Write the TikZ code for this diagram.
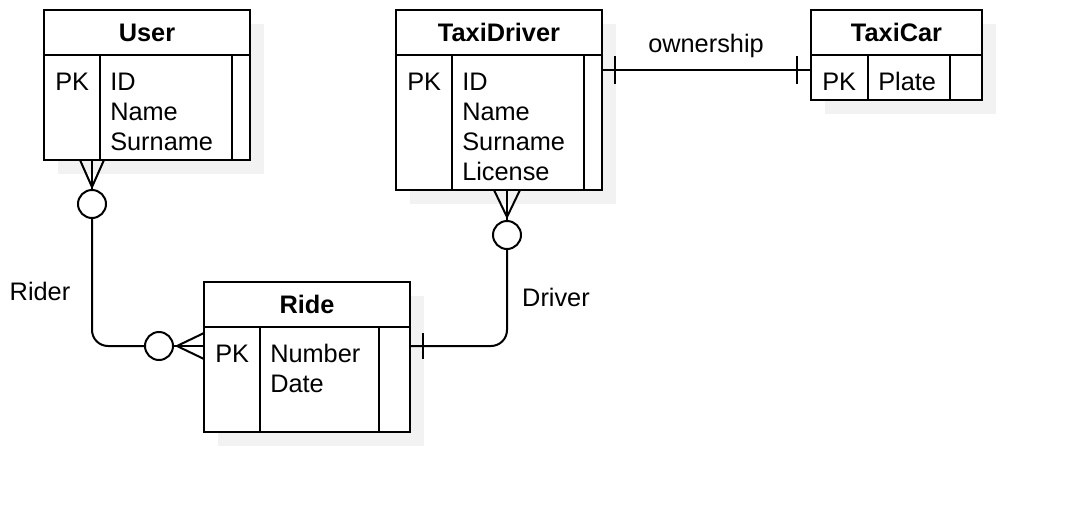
\documentclass[tikz,border=0pt]{standalone}
\usepackage{fontspec}
\setmainfont{Liberation Sans}
\usetikzlibrary{positioning, calc, shadows}
\newcommand{\px}{0.75pt}
\newcommand{\erfont}{\fontsize{19pt}{22pt}\selectfont}

\tikzset{
  entity/.style={draw, line width=1.5pt, fill=white, inner sep=0pt, outer sep=0pt,
    drop shadow={shadow xshift=14*\px, shadow yshift=-14*\px, fill=black!5, opacity=1}},
  enthead/.style={entity, minimum height=45*\px, font=\erfont\bfseries},
  field/.style={inner sep=0pt, anchor=base west},
  link/.style={line width=1.5pt},
  optcirc/.style={circle, draw, line width=1.5pt, fill=white, minimum size=28*\px, inner sep=0pt},
  rellabel/.style={inner sep=0pt, anchor=base}
}

\begin{document}
\begin{tikzpicture}[x=\px, y=-\px, font=\erfont, node distance=0pt]
  \useasboundingbox (0,0) rectangle (1072,522);

  % User entity
  \node[enthead, minimum width=206*\px] (userhead) at (147,32.5) {User};
  \node[entity, minimum width=206*\px, minimum height=105*\px, below=of userhead] (userbody) {};
  \draw[link] ($(userbody.north west)+(56,0)$) -- ($(userbody.south west)+(56,0)$);
  \draw[link] ($(userbody.north west)+(188,0)$) -- ($(userbody.south west)+(188,0)$);
  \node[field] (userpk) at ($(userbody.north west)+(11,35)$) {PK};
  \foreach \f [count=\i] in {ID, Name, Surname}
    \node[field] (userf\i) at ($(userbody.north west)+(66,{35+30*(\i-1)})$) {\f};

  % TaxiDriver entity
  \node[enthead, minimum width=206*\px] (tdhead) at (499,32.5) {TaxiDriver};
  \node[entity, minimum width=206*\px, minimum height=135*\px, below=of tdhead] (tdbody) {};
  \draw[link] ($(tdbody.north west)+(56,0)$) -- ($(tdbody.south west)+(56,0)$);
  \draw[link] ($(tdbody.north west)+(188,0)$) -- ($(tdbody.south west)+(188,0)$);
  \node[field] (tdpk) at ($(tdbody.north west)+(11,35)$) {PK};
  \foreach \f [count=\i] in {ID, Name, Surname, License}
    \node[field] (tdf\i) at ($(tdbody.north west)+(66,{35+30*(\i-1)})$) {\f};

  % TaxiCar entity
  \node[enthead, minimum width=171*\px] (tchead) at (896.5,32.5) {TaxiCar};
  \node[entity, minimum width=171*\px, minimum height=45*\px, below=of tchead] (tcbody) {};
  \draw[link] ($(tcbody.north west)+(57,0)$) -- ($(tcbody.south west)+(57,0)$);
  \draw[link] ($(tcbody.north west)+(139,0)$) -- ($(tcbody.south west)+(139,0)$);
  \node[field] (tcpk) at ($(tcbody.north west)+(11,35)$) {PK};
  \node[field] (tcf1) at ($(tcbody.north west)+(67,35)$) {Plate};

  % Ride entity
  \node[enthead, minimum width=206*\px] (ridehead) at (307,304.5) {Ride};
  \node[entity, minimum width=206*\px, minimum height=105*\px, below=of ridehead] (ridebody) {};
  \draw[link] ($(ridebody.north west)+(56,0)$) -- ($(ridebody.south west)+(56,0)$);
  \draw[link] ($(ridebody.north west)+(175,0)$) -- ($(ridebody.south west)+(175,0)$);
  \node[field] (ridepk) at ($(ridebody.north west)+(11,35)$) {PK};
  \foreach \f [count=\i] in {Number, Date}
    \node[field] (ridef\i) at ($(ridebody.north west)+(66,{35+30*(\i-1)})$) {\f};

  % Rider: User (zero or many) -- Ride (zero or many)
  \node[optcirc] (usercirc) at (92,204) {};
  \node[optcirc] (ridecirc) at (159,346) {};
  \coordinate (usertip) at (92,187);
  \coordinate (ridetip) at (177,346);
  \draw[link, rounded corners=16*\px] (usercirc.south) |- (ridecirc.west);
  \draw[link] (usercirc.north) -- (usercirc.north |- userbody.south);
  \draw[link] ($(usercirc.north |- userbody.south)+(-12,0)$) -- (usertip)
              -- ($(usercirc.north |- userbody.south)+(12,0)$);
  \draw[link] (ridecirc.east) -- (ridecirc.east -| ridebody.west);
  \draw[link] ($(ridecirc.east -| ridebody.west)+(0,-13)$) -- (ridetip)
              -- ($(ridecirc.east -| ridebody.west)+(0,13)$);
  \node[rellabel] (riderlabel) at (40,300) {Rider};

  % Driver: TaxiDriver (zero or many) -- Ride (one)
  \node[optcirc] (drivercirc) at (507,235) {};
  \coordinate (drivertip) at (507,217);
  \draw[link] (drivercirc.north) -- (drivercirc.north |- tdbody.south);
  \draw[link] ($(drivercirc.north |- tdbody.south)+(-13,0)$) -- (drivertip)
              -- ($(drivercirc.north |- tdbody.south)+(13,0)$);
  \draw[link, rounded corners=16*\px] (drivercirc.south) |- (ridecirc.east -| ridebody.east);
  \draw[link] ($(ridecirc.east -| ridebody.east)+(13,-13)$) -- ++(0,26);
  \node[rellabel] (driverlabel) at (556,306) {Driver};

  % ownership: TaxiDriver (one) -- TaxiCar (one)
  \draw[link] ($(tdbody.north east)+(0,15)$) -- ($(tcbody.north west)+(0,15)$);
  \draw[link] ($(tdbody.north east)+(13,1)$) -- ++(0,28);
  \draw[link] ($(tcbody.north west)+(-14,1)$) -- ++(0,28);
  \node[rellabel] (ownlabel) at (706,52) {ownership};
\end{tikzpicture}
\end{document}
